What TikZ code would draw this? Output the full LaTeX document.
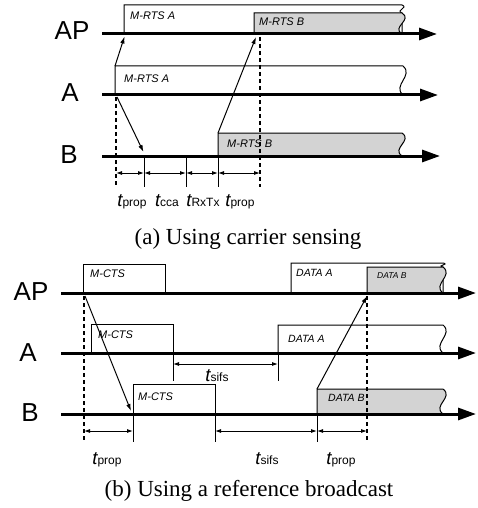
\documentclass[tikz,border=0pt]{standalone}
\usepackage{fontspec}
\setmainfont{Liberation Serif}
\setsansfont{Liberation Sans}
\usetikzlibrary{arrows.meta}
\definecolor{boxgray}{RGB}{211,211,211}
\newcommand\tlab[1]{{\fontsize{18.5}{18.5}\selectfont\itshape t}{\fontsize{12}{12}\selectfont #1}}
% packet box with wavy right edge: style, x1, ytop, x2, ybot
\newcommand\wpkt[5]{%
  \pgfmathsetmacro\wph{(#5-#3)/3}%
  \path[#1] (#2,#5) -- (#2,#3) -- (#4,#3) .. controls +(11,\wph) and +(-11,-\wph) .. (#4,#5) -- cycle;}
% packet box whose wavy edge stops at ymid (lower part covered): style, x1, ytop, x2, ymid, ybot
\newcommand\wpktb[6]{%
  \pgfmathsetmacro\wph{(#5-#3)/3}%
  \path[#1] (#2,#6) -- (#2,#3) -- (#4,#3) .. controls +(7,\wph) and +(-7,-\wph) .. (#4,#5) -- (#4,#6) -- cycle;}
\begin{document}
\begin{tikzpicture}[x=1pt,y=-1pt,
  timeline/.style={line width=3pt,-{Triangle[length=18pt,width=12pt]}},
  sig/.style={line width=1pt,-{Latex[length=7pt,width=4.5pt]}},
  dim/.style={line width=0.9pt,{Latex[length=6pt,width=4pt]}-{Latex[length=6pt,width=4pt]}},
  tickln/.style={line width=1pt},
  dashln/.style={line width=1.1pt,dash pattern=on 4pt off 3pt},
  pkt/.style={draw,line width=1pt,fill=white},
  gpkt/.style={draw,line width=1pt,fill=boxgray},
  stn/.style={font=\sffamily\fontsize{26}{26}\selectfont,anchor=base,inner sep=0},
  pktlab/.style={font=\sffamily\itshape\fontsize{11}{11}\selectfont,anchor=base west,inner sep=0},
  tlabel/.style={font=\sffamily,anchor=base,inner sep=0},
  captxt/.style={font=\fontsize{23}{23}\selectfont,anchor=base,inner sep=0}]
\useasboundingbox (0,0) rectangle (477,508);

% ================= panel (a) =================
\node[stn] (apA) at (72,40) {AP};
\node[stn] (aA) at (70,102) {A};
\node[stn] (bA) at (69,163) {B};

\coordinate (apas) at (102,34);  \coordinate (apae) at (437,34);
\coordinate (aas) at (102,95);   \coordinate (aae) at (438,95);
\coordinate (bas) at (102,156);  \coordinate (bae) at (440,156);

\wpktb{pkt}{124}{5}{402}{13}{34}
\wpkt{gpkt}{254}{13}{402}{34}
\wpkt{pkt}{115}{66}{403}{95}
\wpkt{gpkt}{218}{133}{402}{156}

\node[pktlab] (l1) at (130,20) {M-RTS A};
\node[pktlab] (l2) at (259,26) {M-RTS B};
\node[pktlab] (l3) at (124,83) {M-RTS A};
\node[pktlab] (l4) at (227,147) {M-RTS B};

\coordinate (da1t) at (116,97);  \coordinate (da1b) at (116,187);
\coordinate (da2t) at (260,37);  \coordinate (da2b) at (260,187);
\draw[dashln] (da1t) -- (da1b);
\draw[dashln] (da2t) -- (da2b);

\draw[timeline] (apas) -- (apae);
\draw[timeline] (aas) -- (aae);
\draw[timeline] (bas) -- (bae);

\coordinate (sa1s) at (115,66);  \coordinate (sa1e) at (124.5,36.5);
\coordinate (sa2s) at (117,97);  \coordinate (sa2e) at (143.5,152);
\coordinate (sa3s) at (218,133); \coordinate (sa3e) at (256,37);
\draw[sig] (sa1s) -- (sa1e);
\draw[sig] (sa2s) -- (sa2e);
\draw[sig] (sa3s) -- (sa3e);

\coordinate (ta1t) at (144,156); \coordinate (ta1b) at (144,187);
\coordinate (ta2t) at (186,156); \coordinate (ta2b) at (186,187);
\coordinate (ta3t) at (218,156); \coordinate (ta3b) at (218,187);
\draw[tickln] (ta1t) -- (ta1b);
\draw[tickln] (ta2t) -- (ta2b);
\draw[tickln] (ta3t) -- (ta3b);

\coordinate (dA0) at (116,173); \coordinate (dA1) at (144,173);
\coordinate (dA2) at (186,173); \coordinate (dA3) at (218,173);
\coordinate (dA4) at (260,173);
\draw[dim] (dA0) -- (dA1);
\draw[dim] (dA1) -- (dA2);
\draw[dim] (dA2) -- (dA3);
\draw[dim] (dA3) -- (dA4);

\node[tlabel] (ta) at (132,206) {\tlab{prop}};
\node[tlabel] (tb) at (167,206) {\tlab{cca}};
\node[tlabel] (tc) at (203,206) {\tlab{RxTx}};
\node[tlabel] (td) at (240,206) {\tlab{prop}};

\node[captxt] (capa) at (248,244) {(a) Using carrier sensing};

% ================= panel (b) =================
\node[stn] (apB) at (31,300) {AP};
\node[stn] (aB) at (28,361) {A};
\node[stn] (bB) at (30,421) {B};

\coordinate (apbs) at (61,293);  \coordinate (apbe) at (476,293);
\coordinate (abs) at (61,353);   \coordinate (abe) at (476,353);
\coordinate (bbs) at (61,414);   \coordinate (bbe) at (476,414);

\draw[pkt] (83,293) rectangle (165,264);
\draw[pkt] (91,353) rectangle (173,324);
\draw[pkt] (133,414) rectangle (215,384);
\wpktb{pkt}{291}{263}{443}{267}{293}
\wpkt{gpkt}{367}{267}{443}{293}
\wpkt{pkt}{278}{325}{443}{353}
\wpkt{gpkt}{317}{389}{443}{414}

\node[pktlab] (m1) at (90,277) {M-CTS};
\node[pktlab] (m2) at (98,338) {M-CTS};
\node[pktlab] (m3) at (138,400) {M-CTS};
\node[pktlab,font=\sffamily\itshape\fontsize{10.5}{10.5}\selectfont] (m4) at (296,276) {DATA A};
\node[pktlab,font=\sffamily\itshape\fontsize{8.5}{8.5}\selectfont] (m5) at (377,278) {DATA B};
\node[pktlab,font=\sffamily\itshape\fontsize{10.5}{10.5}\selectfont] (m6) at (288,342) {DATA A};
\node[pktlab,font=\sffamily\itshape\fontsize{10.5}{10.5}\selectfont] (m7) at (328,401) {DATA B};

\coordinate (db1t) at (84,296);  \coordinate (db1b) at (84,442);
\coordinate (db2t) at (367,296); \coordinate (db2b) at (367,442);
\draw[dashln] (db1t) -- (db1b);
\draw[dashln] (db2t) -- (db2b);

\draw[timeline] (apbs) -- (apbe);
\draw[timeline] (abs) -- (abe);
\draw[timeline] (bbs) -- (bbe);

\coordinate (sb1s) at (85,296);  \coordinate (sb1e) at (131,411);
\coordinate (sb2s) at (317,389); \coordinate (sb2e) at (367,296);
\draw[sig] (sb1s) -- (sb1e);
\draw[sig] (sb2s) -- (sb2e);

\coordinate (tb1t) at (173,353); \coordinate (tb1b) at (173,381);
\coordinate (tb2t) at (278,353); \coordinate (tb2b) at (278,381);
\coordinate (tb3t) at (133,414); \coordinate (tb3b) at (133,442);
\coordinate (tb4t) at (215,414); \coordinate (tb4b) at (215,442);
\coordinate (tb5t) at (317,414); \coordinate (tb5b) at (317,442);
\draw[tickln] (tb1t) -- (tb1b);
\draw[tickln] (tb2t) -- (tb2b);
\draw[tickln] (tb3t) -- (tb3b);
\draw[tickln] (tb4t) -- (tb4b);
\draw[tickln] (tb5t) -- (tb5b);

\coordinate (dB0) at (173,364); \coordinate (dB1) at (278,364);
\draw[dim] (dB0) -- (dB1);
\coordinate (dC0) at (84,431);  \coordinate (dC1) at (133,431);
\coordinate (dC2) at (215,431); \coordinate (dC3) at (317,431);
\coordinate (dC4) at (367,431);
\draw[dim] (dC0) -- (dC1);
\draw[dim] (dC2) -- (dC3);
\draw[dim] (dC3) -- (dC4);

\node[tlabel] (te) at (217,381) {\tlab{sifs}};
\node[tlabel] (tf) at (107,464) {\tlab{prop}};
\node[tlabel] (tg) at (267,464) {\tlab{sifs}};
\node[tlabel] (th) at (341,464) {\tlab{prop}};

\node[captxt] (capb) at (249,496) {(b) Using a reference broadcast};
\end{tikzpicture}
\end{document}
